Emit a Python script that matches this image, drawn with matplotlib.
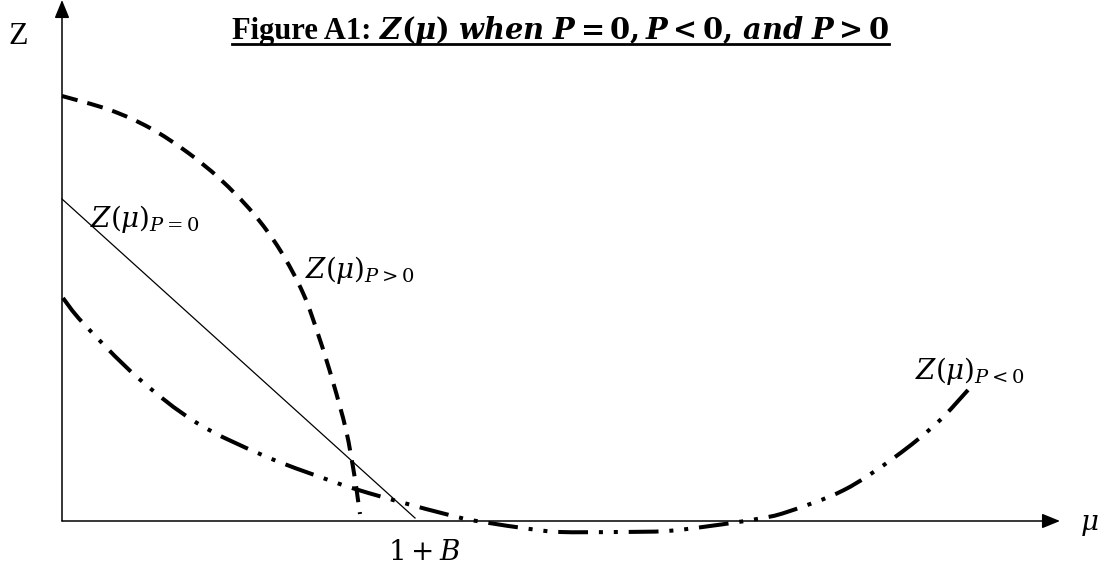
import matplotlib
matplotlib.use("Agg")
import matplotlib.pyplot as plt
import numpy as np
from matplotlib.lines import Line2D
from matplotlib.path import Path
from matplotlib.patches import PathPatch

plt.rcParams['mathtext.fontset'] = 'dejavuserif'
plt.rcParams['font.family'] = ['Liberation Serif', 'DejaVu Serif']

# ---- data (chart units: mu along x, Z along y) ----
mu_p0 = [0.0, 3.53]
z_p0 = [3.22, 0.03]

mu_ppos = [0.0, 0.48, 0.88, 1.25, 1.58, 1.91, 2.18, 2.41, 2.57, 2.71, 2.84, 2.92, 2.96, 2.98]
z_ppos = [4.25, 4.11, 3.93, 3.69, 3.42, 3.08, 2.71, 2.28, 1.84, 1.39, 0.91, 0.48, 0.21, 0.07]

mu_pneg = [0.01, 0.21, 0.75, 1.35, 2.05, 2.75, 2.90, 3.31, 3.95, 4.21, 4.68, 4.98,
           5.55, 6.05, 6.48, 6.95, 7.25, 7.82, 8.33, 8.75, 9.06]
z_pneg = [2.23, 1.98, 1.44, 0.98, 0.64, 0.38, 0.33, 0.21, 0.04, -0.01, -0.08, -0.11,
          -0.11, -0.10, -0.05, 0.02, 0.09, 0.31, 0.64, 0.98, 1.31]

x_axis_end = 9.98
y_axis_end = 5.21
b_point = 3.62

title_plain = "Figure A1: "
title_math = (r"$\mathbfit{Z}\mathbf{(}\mathbfit{\mu}\mathbf{)}\ \mathbfit{when}\ "
              r"\mathbfit{P}\mathbf{=0,}\mathbfit{P}\mathbf{<0,}\,\mathbfit{and}\ "
              r"\mathbfit{P}\mathbf{>0}$")


def smooth_path(xs, ys):
    """Cubic Bezier path passing through the given points (Catmull-Rom tangents)."""
    p = np.column_stack([xs, ys]).astype(float)
    ext = np.vstack([p[0], p, p[-1]])
    verts = [p[0]]
    codes = [Path.MOVETO]
    for i in range(len(p) - 1):
        a, b, c, d = ext[i], ext[i + 1], ext[i + 2], ext[i + 3]
        verts += [b + (c - a) / 6.0, c - (d - b) / 6.0, c]
        codes += [Path.CURVE4] * 3
    return Path(verts, codes)


fig = plt.figure(figsize=(11.03, 5.75), dpi=100)
ax = fig.add_axes([0, 0, 1, 1])
ax.set_xlim(-0.62, 10.41)
ax.set_ylim(-0.54, 5.21)
ax.axis('off')

# axes with arrows
ax.annotate('', xy=(x_axis_end, 0), xytext=(0, 0),
            arrowprops=dict(arrowstyle='-|>,head_length=1.1,head_width=0.45',
                            color='black', lw=1.1, shrinkA=0, shrinkB=0))
ax.annotate('', xy=(0, y_axis_end), xytext=(0, 0),
            arrowprops=dict(arrowstyle='-|>,head_length=1.1,head_width=0.45',
                            color='black', lw=1.1, shrinkA=0, shrinkB=0))

# curves
ax.plot(mu_p0, z_p0, color='black', lw=0.9)
ax.add_patch(PathPatch(smooth_path(mu_ppos, z_ppos), fill=False, edgecolor='black',
                       lw=2.9, linestyle=(0, (4.0, 2.5)), capstyle='butt'))
ax.add_patch(PathPatch(smooth_path(mu_pneg, z_pneg), fill=False, edgecolor='black',
                       lw=2.9, linestyle=(0, (7.4, 2.7, 1.0, 2.7, 1.0, 2.7)),
                       capstyle='butt'))

# labels
ax.text(0.28, 3.18, r"$Z(\mu)_{P=0}$", fontsize=20, ha='left', va='top')
ax.text(2.43, 2.67, r"$Z(\mu)_{P>0}$", fontsize=20, ha='left', va='top')
ax.text(8.53, 1.66, r"$Z(\mu)_{P<0}$", fontsize=20, ha='left', va='top')
ax.text(b_point, -0.33, r"$1+B$", fontsize=20, ha='center', va='center')
ax.text(10.27, -0.05, r"$\mu$", fontsize=20, ha='center', va='center')
fig.text(18 / 1103, 1 - 36 / 575, "Z", fontsize=23, ha='center', va='center')

# title
t1 = fig.text(232 / 1103, 1 - 39 / 575, title_plain, fontsize=22,
              fontweight='bold', ha='left', va='baseline')
fig.canvas.draw()
r = fig.canvas.get_renderer()
bb1 = t1.get_window_extent(r)
t2 = fig.text(bb1.x1 / 1103, 1 - 39 / 575, title_math, fontsize=20.8,
              ha='left', va='baseline')
fig.canvas.draw()
bb2 = t2.get_window_extent(r)
uy = 1 - 43.5 / 575
fig.add_artist(Line2D([bb1.x0 / 1103, bb2.x1 / 1103], [uy, uy],
                      transform=fig.transFigure, color='black', lw=2.0))

fig.savefig('out.png', dpi=100)
